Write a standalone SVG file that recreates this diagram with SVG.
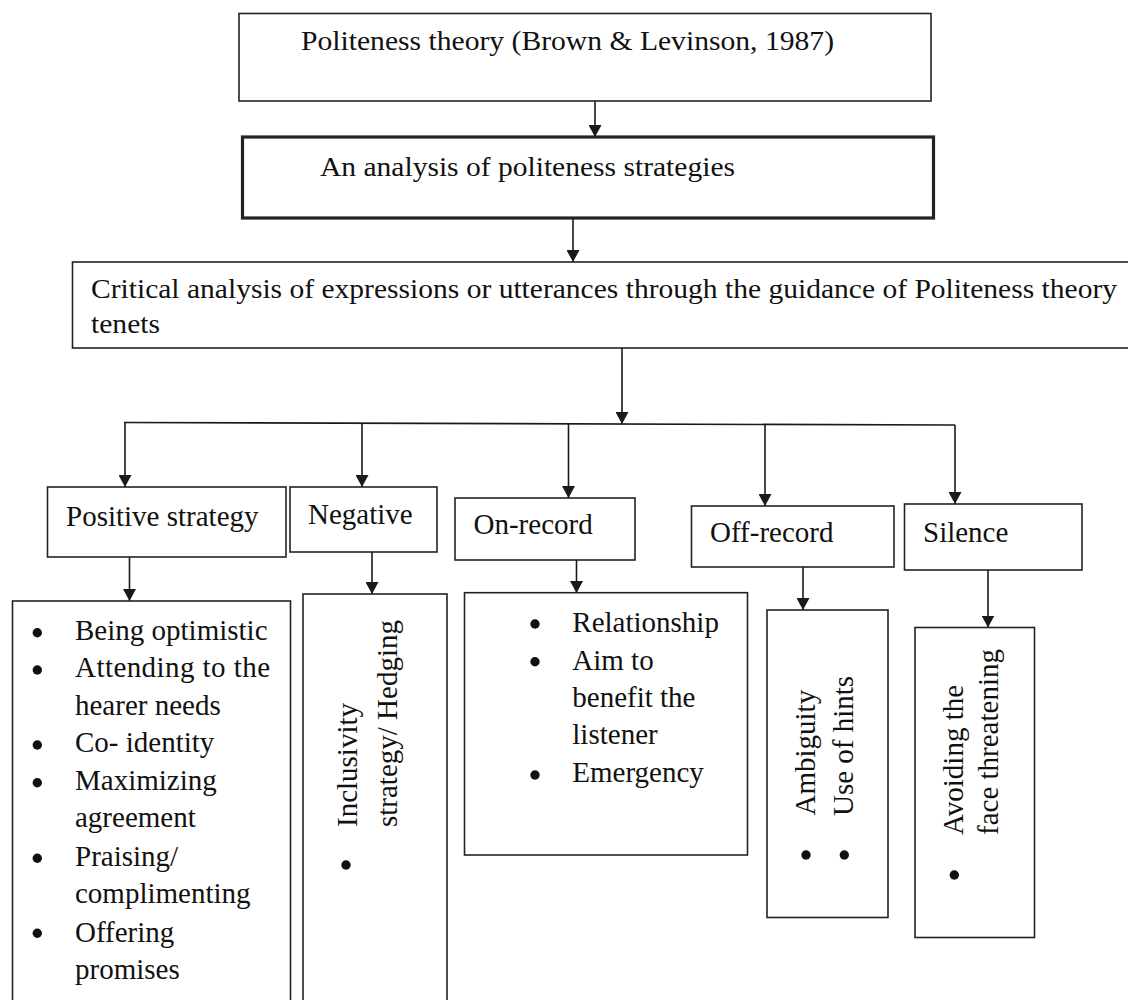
<svg xmlns="http://www.w3.org/2000/svg" width="1128" height="1000" viewBox="0 0 1128 1000">
<defs>
<marker id="ah" markerUnits="userSpaceOnUse" markerWidth="13" markerHeight="13" refX="12" refY="6.5" orient="auto">
<path d="M0,0 L12,6.5 L0,13 z" fill="#1a1a1a"/>
</marker>
</defs>
<style>
.box{fill:#fff;stroke:#222;stroke-width:1.6}
.thick{stroke-width:3.2}
.t{font-family:"Liberation Serif","Times New Roman",serif;fill:#111}
.top{font-size:27px}
.lbl{font-size:29px}
.conn{stroke:#1a1a1a;stroke-width:1.6;fill:none}
.arr{marker-end:url(#ah)}
.bullet{fill:#111}
</style>
<rect width="1128" height="1000" fill="#fff"/>

<g id="connectors">
<line class="conn arr" x1="595" y1="101" x2="595" y2="137"/>
<line class="conn arr" x1="573" y1="218" x2="573" y2="262"/>
<line class="conn arr" x1="622" y1="348" x2="622" y2="424"/>
<line class="conn" x1="124" y1="422.5" x2="955" y2="425"/>
<line class="conn arr" x1="125" y1="422.5" x2="125" y2="487"/>
<line class="conn arr" x1="362" y1="423" x2="362" y2="487"/>
<line class="conn arr" x1="568.5" y1="424" x2="568.5" y2="498"/>
<line class="conn arr" x1="765" y1="424.5" x2="765" y2="506"/>
<line class="conn arr" x1="955" y1="425" x2="955" y2="504"/>
<line class="conn arr" x1="129.5" y1="557" x2="129.5" y2="601"/>
<line class="conn arr" x1="372" y1="552" x2="372" y2="594"/>
<line class="conn arr" x1="576.5" y1="560" x2="576.5" y2="593"/>
<line class="conn arr" x1="803" y1="567" x2="803" y2="610"/>
<line class="conn arr" x1="988" y1="570" x2="988" y2="627.5"/>
</g>

<g id="theory">
<rect class="box" x="239" y="13.5" width="692" height="87.5"/>
<text class="t top" x="301" y="50" textLength="533" lengthAdjust="spacingAndGlyphs">Politeness theory (Brown &amp; Levinson, 1987)</text>
</g>

<g id="analysis">
<rect class="box thick" x="242.5" y="137" width="691" height="81"/>
<text class="t top" x="320" y="176" textLength="415" lengthAdjust="spacingAndGlyphs">An analysis of politeness strategies</text>
</g>

<g id="critical">
<rect class="box" x="72.5" y="262" width="1070" height="86"/>
<text class="t top" x="91" y="298" textLength="1026" lengthAdjust="spacingAndGlyphs">Critical analysis of expressions or utterances through the guidance of Politeness theory</text>
<text class="t top" x="91" y="333" textLength="69" lengthAdjust="spacingAndGlyphs">tenets</text>
</g>

<g id="positive">
<rect class="box" x="47.5" y="487" width="238.5" height="70"/>
<text class="t lbl" x="66" y="525.5">Positive strategy</text>
</g>

<g id="negative">
<rect class="box" x="290" y="487" width="147" height="65"/>
<text class="t lbl" x="308" y="523.5">Negative</text>
</g>

<g id="on-record">
<rect class="box" x="455" y="498" width="180" height="62"/>
<text class="t lbl" x="473.5" y="534">On-record</text>
</g>

<g id="off-record">
<rect class="box" x="691.5" y="506" width="202.5" height="61"/>
<text class="t lbl" x="710" y="542">Off-record</text>
</g>

<g id="silence">
<rect class="box" x="904.5" y="504" width="177.5" height="66"/>
<text class="t lbl" x="923" y="542">Silence</text>
</g>

<g id="positive-list">
<rect class="box" x="12.5" y="601" width="278" height="420"/>
<circle class="bullet" cx="37.3" cy="632.7" r="4.7"/>
<circle class="bullet" cx="37.3" cy="670" r="4.7"/>
<circle class="bullet" cx="37.3" cy="745" r="4.7"/>
<circle class="bullet" cx="37.3" cy="782.7" r="4.7"/>
<circle class="bullet" cx="37.3" cy="858.3" r="4.7"/>
<circle class="bullet" cx="37.3" cy="933.3" r="4.7"/>
<text class="t lbl" x="75" y="639.5">Being optimistic</text>
<text class="t lbl" x="75" y="677.3" textLength="195" lengthAdjust="spacing">Attending to the</text>
<text class="t lbl" x="75" y="714.5">hearer needs</text>
<text class="t lbl" x="75" y="752.3">Co- identity</text>
<text class="t lbl" x="75" y="790">Maximizing</text>
<text class="t lbl" x="75" y="827">agreement</text>
<text class="t lbl" x="75" y="866">Praising/</text>
<text class="t lbl" x="75" y="903.3">complimenting</text>
<text class="t lbl" x="75" y="941.5">Offering</text>
<text class="t lbl" x="75" y="978.5">promises</text>
</g>

<g id="negative-list">
<rect class="box" x="303" y="594" width="144" height="420"/>
<text class="t lbl" transform="translate(356.7,827) rotate(-90)">Inclusivity</text>
<text class="t lbl" transform="translate(397,827) rotate(-90)">strategy/ Hedging</text>
<circle class="bullet" cx="346" cy="865" r="4.7"/>
</g>

<g id="on-record-list">
<rect class="box" x="464.5" y="592.7" width="283" height="262.3"/>
<circle class="bullet" cx="535" cy="624" r="4.7"/>
<circle class="bullet" cx="535" cy="661.7" r="4.7"/>
<circle class="bullet" cx="535" cy="775" r="4.7"/>
<text class="t lbl" x="572.3" y="631.7">Relationship</text>
<text class="t lbl" x="572.3" y="670">Aim to</text>
<text class="t lbl" x="572.3" y="707.3">benefit the</text>
<text class="t lbl" x="572.3" y="744.3">listener</text>
<text class="t lbl" x="572.3" y="781.7">Emergency</text>
</g>

<g id="off-record-list">
<rect class="box" x="767" y="610" width="121" height="307.5"/>
<text class="t lbl" transform="translate(815,815.5) rotate(-90)">Ambiguity</text>
<text class="t lbl" transform="translate(852.7,816) rotate(-90)">Use of hints</text>
<circle class="bullet" cx="806" cy="855" r="4.7"/>
<circle class="bullet" cx="844.3" cy="855" r="4.7"/>
</g>

<g id="silence-list">
<rect class="box" x="915" y="627.5" width="119.5" height="310"/>
<text class="t lbl" transform="translate(963.3,835) rotate(-90)">Avoiding the</text>
<text class="t lbl" transform="translate(997.5,835) rotate(-90)">face threatening</text>
<circle class="bullet" cx="954.3" cy="875" r="4.7"/>
</g>
</svg>
